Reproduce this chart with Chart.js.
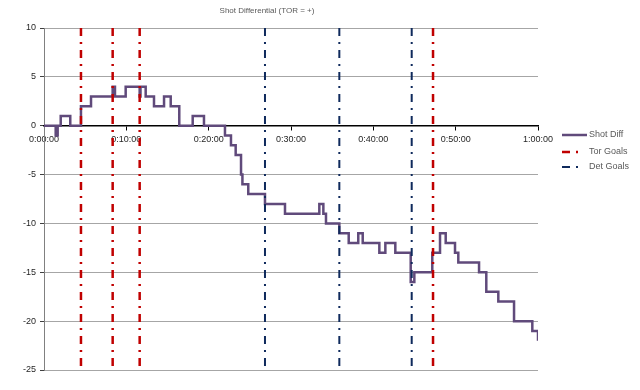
<!DOCTYPE html>
<html lang="en">
<head>
  <meta charset="UTF-8">
  <title>Shot Differential</title>
  <script src="https://cdn.jsdelivr.net/npm/chart.js"></script>
  <style>
    body {
      margin: 0;
      padding: 0;
      background-color: #fff;
    }

    #wrap {
      position: relative;
      width: 640px;
      height: 390px;
    }
  </style>
</head>
<body>
  <div id="wrap">
    <canvas id="shotChart"></canvas>
  </div>

  <script>
    // Game time in minutes where the shot differential changes, and the new value
    const shotTimes = [0, 1.42, 1.66, 2.03, 3.19, 4.49, 5.71, 8.34, 8.62, 9.92, 11.62, 11.72, 12.35,
      13.36, 14.58, 15.39, 16.43, 18.06, 19.43, 21.98, 22.71, 23.28, 23.93, 24.1, 24.81, 26.84,
      29.27, 33.44, 33.93, 34.25, 35.87, 37.01, 38.17, 38.71, 40.73, 41.46, 42.67, 44.54, 44.98,
      47.16, 48.1, 48.79, 49.92, 50.32, 52.84, 53.72, 55.18, 57.09, 59.31, 60];
    const shotDiff = [0, -1, 0, 1, 0, 2, 3, 4, 3, 4, 3, 4, 3,
      2, 3, 2, 0, 1, 0, -1, -2, -3, -5, -6, -7, -8,
      -9, -8, -9, -10, -11, -12, -11, -12, -13, -12, -13, -16, -15,
      -13, -11, -12, -13, -14, -15, -17, -18, -20, -21, -22];

    // Goal times (minutes)
    const torGoals = [4.49, 8.34, 11.62, 47.25];
    const detGoals = [26.84, 35.87, 44.66];

    // Axis ranges
    const yMin = -25;
    const yMax = 10;
    const yStep = 5;
    const xMin = 0;
    const xMax = 60;
    const xStep = 10;

    const title = "Shot Differential (TOR = +)";

    const purple = "#604a7b";
    const red = "#c00000";
    const navy = "#0f2a5c";
    const goalDash = [8, 6, 2, 6];

    Chart.defaults.font.family = "'Liberation Sans', Arial, sans-serif";

    // minutes -> h:mm:ss
    function fmtTime(m) {
      const h = Math.floor(m / 60);
      const mm = Math.round(m % 60);
      return h + ":" + String(mm).padStart(2, "0") + ":00";
    }

    // vertical goal markers spanning the full y range, split by gaps
    function goalLines(times) {
      const pts = [];
      times.forEach(t => {
        pts.push({ x: t, y: yMax }, { x: t, y: yMin }, { x: t, y: null });
      });
      return pts;
    }

    // Title and legend drawn beside the plot like the original sheet chart
    const sideText = {
      id: "sideText",
      afterDraw(chart) {
        const ctx = chart.ctx;
        ctx.save();
        ctx.fillStyle = "#595959";
        ctx.textBaseline = "middle";
        ctx.textAlign = "center";
        ctx.font = "8px 'Liberation Sans', Arial, sans-serif";
        ctx.fillText(title, 267, 11);

        ctx.textAlign = "left";
        ctx.font = "9px 'Liberation Sans', Arial, sans-serif";
        const rows = [135, 152, 167];
        chart.data.datasets.forEach((ds, i) => {
          const y = rows[i];
          ctx.beginPath();
          ctx.strokeStyle = ds.borderColor;
          ctx.lineWidth = ds.borderWidth;
          ctx.setLineDash(ds.borderDash || []);
          ctx.moveTo(562, y);
          ctx.lineTo(i === 0 ? 587 : 578, y);
          ctx.stroke();
          ctx.setLineDash([]);
          ctx.fillText(ds.label, 589, y);
        });
        ctx.restore();
      }
    };

    const ctx = document.getElementById("shotChart").getContext("2d");
    const shotChart = new Chart(ctx, {
      type: "line",
      data: {
        datasets: [
          {
            label: "Shot Diff",
            data: shotTimes.map((t, i) => ({ x: t, y: shotDiff[i] })),
            borderColor: purple,
            borderWidth: 2.5,
            stepped: "before",
            pointRadius: 0,
            fill: false,
            order: 3,
          },
          {
            label: "Tor Goals",
            data: goalLines(torGoals),
            borderColor: red,
            borderWidth: 2.5,
            borderDash: goalDash,
            pointRadius: 0,
            spanGaps: false,
            fill: false,
            order: 2,
          },
          {
            label: "Det Goals",
            data: goalLines(detGoals),
            borderColor: navy,
            borderWidth: 2,
            borderDash: goalDash,
            pointRadius: 0,
            spanGaps: false,
            fill: false,
            order: 1,
          },
        ],
      },
      options: {
        responsive: true,
        maintainAspectRatio: false,
        animation: false,
        layout: { padding: { left: 0, right: 102, top: 28, bottom: 20 } },
        plugins: {
          legend: { display: false },
          tooltip: { enabled: false },
        },
        scales: {
          x: {
            type: "linear",
            min: xMin,
            max: xMax,
            position: { y: 0 },
            grid: { drawOnChartArea: false, tickLength: 4, tickColor: "#000" },
            border: { color: "#000", width: 1.5 },
            ticks: {
              stepSize: xStep,
              autoSkip: false,
              maxRotation: 0,
              padding: 4,
              color: "#262626",
              font: { size: 9 },
              callback: v => fmtTime(v),
            },
          },
          y: {
            min: yMin,
            max: yMax,
            grid: { color: "#a6a6a6", tickColor: "#404040", tickLength: 4 },
            border: { color: "#808080", width: 1 },
            ticks: {
              stepSize: yStep,
              padding: 4,
              color: "#262626",
              font: { size: 9 },
            },
            afterFit: scale => { scale.width = 44; },
          },
        },
      },
      plugins: [sideText],
    });
  </script>
</body>
</html>
